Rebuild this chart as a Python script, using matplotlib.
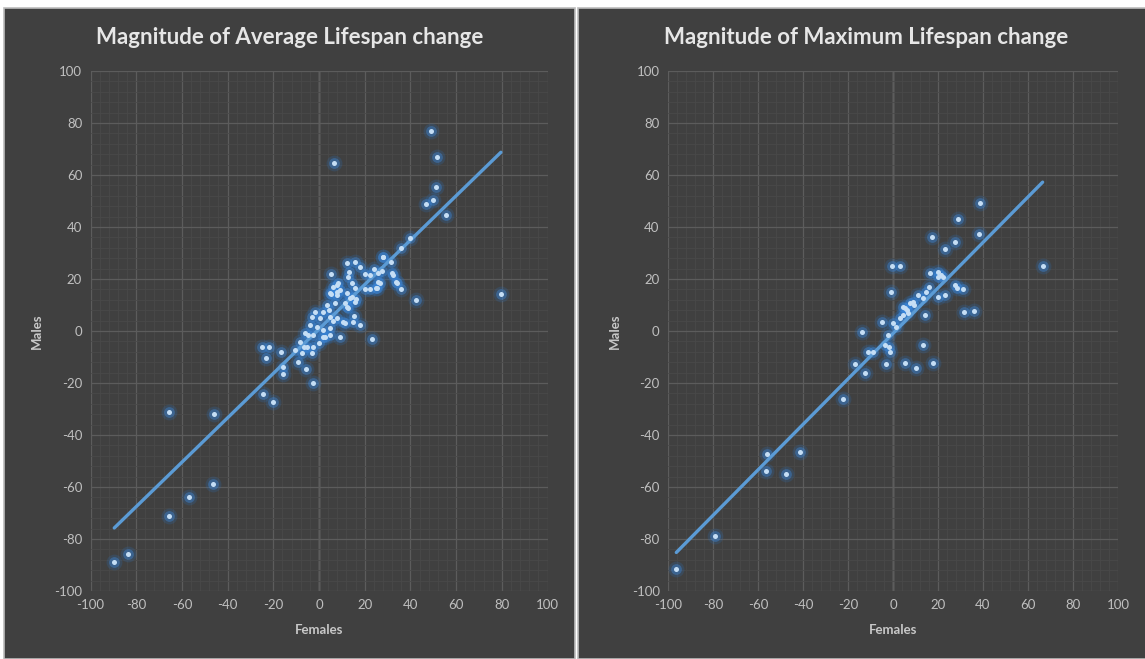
import numpy as np
import matplotlib
matplotlib.use("Agg")
import matplotlib.pyplot as plt
from matplotlib.patches import Rectangle
from matplotlib.ticker import MultipleLocator

plt.rcParams["font.family"] = ["Lato", "DejaVu Sans"]
plt.rcParams["axes.unicode_minus"] = False

# Average lifespan change (females, males)
avg_f = [-89.6, -83.7, -65.8, -46.0, -65.8, -57.0, -46.5, -24.4, -20.0, 6.7,
         48.9, 51.8, 51.2, 50.0, 47.0, 55.7, 39.8, 35.7, 79.6, 42.5,
         27.9, 31.5, 27.4, 31.8, 33.7, 35.9, 26.7, 24.1, 25.9, 22.3,
         26.0, 24.8, 20.1, 22.3, 25.3, 23.0, 15.8, 12.1, 17.9, 28.1,
         5.1, 13.3, 12.8, 8.4, 6.3, 9.2, 4.8, 7.7, 12.1, 14.3,
         15.8, 13.6, 11.4, 12.8, 7.0, 3.4, 1.9, -1.8, -3.2, 0.4,
         4.8, 7.7, 10.6, 15.0, 17.9, -3.9, -1.0, 1.9, 4.8, -6.1,
         -2.5, 2.6, 9.2, -8.3, -5.4, -2.5, -10.5, 7.7, 5.3, 8.0,
         14.3, 16.2, 12.1, 15.9, 15.3, 4.5, 6.3, 11.4, 0.1, 4.8,
         -4.7, 1.9, -25.1, -21.9, -16.8, -23.3, -6.6, -7.6, -3.2, -9.1,
         -5.7, -15.6, -15.6, -2.6, 32.5, 34.0, 20.0]
avg_m = [-89.0, -85.9, -31.3, -32.0, -71.2, -64.0, -59.0, -24.4, -27.2, 64.5,
         77.0, 67.0, 55.3, 50.3, 48.8, 44.5, 35.9, 32.0, 14.1, 11.9,
         28.3, 26.7, 23.2, 22.3, 18.7, 16.0, 18.6, 24.0, 22.2, 21.5,
         18.7, 16.5, 16.0, 16.0, 16.4, -3.2, 26.4, 26.0, 24.8, 28.6,
         21.9, 22.8, 20.9, 18.3, 17.0, 15.8, 14.7, 13.8, 14.5, 18.3,
         16.4, 12.6, 10.6, 8.7, 10.6, 10.0, 7.4, 7.4, 5.5, 4.9,
         5.5, 4.9, 3.6, 3.6, 2.3, 2.3, 1.7, 0.4, 1.0, -0.9,
         -1.5, -2.2, -2.2, -4.1, -6.0, -6.0, -7.3, 17.7, 14.2, 15.1,
         13.2, 12.2, 9.4, 11.3, 5.9, 8.1, 4.0, 2.9, -4.7, -1.5,
         -1.5, -2.2, -6.3, -6.3, -8.2, -10.5, -6.3, -8.6, -8.6, -12.0,
         -14.7, -14.0, -16.7, -20.0, 21.5, 18.3, 22.0]

# Maximum lifespan change (females, males)
max_f = [38.5, 28.9, 38.1, 17.2, 27.4, 23.3, -0.3, 3.0, 16.3, 20.0,
         21.2, 22.2, 20.0, -0.7, 16.0, 14.8, 27.4, 28.4, 31.3, 23.0,
         20.0, 13.3, 11.1, 8.9, 7.4, 5.2, 4.4, 6.7, 4.4, 3.0,
         14.1, 31.6, 36.2, 0.0, 1.5, -4.7, -13.6, -2.2, -3.7, -1.8,
         -1.5, 13.2, -11.1, -8.9, -17.0, -3.2, 5.3, 17.8, 10.4, -12.6,
         -22.2, 66.5, -96.3, -79.2, -56.0, -56.3, -47.7, -41.2, 6.0, 9.5]
max_m = [49.1, 43.0, 37.2, 36.3, 34.2, 31.7, 25.0, 25.0, 22.4, 22.8,
         21.5, 20.9, 20.9, 15.1, 17.0, 15.1, 17.7, 16.5, 16.0, 13.8,
         13.2, 12.6, 13.8, 11.3, 10.7, 8.7, 9.4, 6.8, 6.2, 4.9,
         6.2, 7.4, 7.6, 3.0, 1.7, 3.6, -0.3, -1.5, -5.4, -6.0,
         -8.0, -5.5, -8.2, -8.0, -12.7, -12.6, -12.4, -12.4, -14.4, -16.3,
         -26.3, 25.0, -91.7, -78.7, -47.4, -53.8, -55.1, -46.4, 8.0, 10.0]

titles = ["Magnitude of Average Lifespan change", "Magnitude of Maximum Lifespan change"]
datasets = [(avg_f, avg_m), (max_f, max_m)]

W, H = 1145, 659
fig = plt.figure(figsize=(W / 100, H / 100), dpi=100, facecolor="white")

panel = "#404040"
# chart area backgrounds (Excel-style dark theme)
fig.patches.append(Rectangle((4 / W, 0), 571 / W, 651 / H, transform=fig.transFigure,
                             facecolor=panel, edgecolor="#bcbcbc", lw=1.2, zorder=-5))
fig.patches.append(Rectangle((578 / W, 0), 568 / W, 651 / H, transform=fig.transFigure,
                             facecolor=panel, edgecolor="#bcbcbc", lw=1.2, zorder=-5))

axes_pos = [[90.5 / W, 68 / H, 457 / W, 520 / H],
            [668 / W, 68 / H, 450 / W, 520 / H]]
title_x = [290 / W, 866 / W]

tick_col = "#bfbfbf"
for (fx, my), pos, title, tx in zip(datasets, axes_pos, titles, title_x):
    ax = fig.add_axes(pos)
    ax.set_facecolor(panel)
    fx = np.array(fx)
    my = np.array(my)
    ax.set_xlim(-100, 100)
    ax.set_ylim(-100, 100)
    ax.xaxis.set_major_locator(MultipleLocator(20))
    ax.yaxis.set_major_locator(MultipleLocator(20))
    ax.xaxis.set_minor_locator(MultipleLocator(4))
    ax.yaxis.set_minor_locator(MultipleLocator(4))
    ax.grid(which="major", color="#5c5c5c", lw=0.9, zorder=0)
    ax.grid(which="minor", color="#494949", lw=0.6, zorder=0)
    ax.axvline(0, color="#8a8a8a", lw=1.0, zorder=1)
    for s in ax.spines.values():
        s.set_visible(False)
    ax.tick_params(which="both", length=0, colors=tick_col, labelsize=9.5, pad=6)
    ax.set_xlabel("Females", color="#c8c8c8", fontsize=9.5, fontweight="bold", labelpad=9)
    ax.set_ylabel("Males", color="#c8c8c8", fontsize=9.5, fontweight="bold", labelpad=8)

    # glowing markers
    ax.scatter(fx, my, s=130, color="#2c6fb8", alpha=0.22, lw=0, zorder=2)
    ax.scatter(fx, my, s=60, color="#3c8ae0", alpha=0.40, lw=0, zorder=2)
    # linear trendline
    k, b = np.polyfit(fx, my, 1)
    xl = np.array([fx.min(), fx.max()])
    ax.plot(xl, k * xl + b, color="#5b9bd5", lw=2.4, zorder=3, solid_capstyle="round")
    ax.scatter(fx, my, s=13, color="#c5def5", lw=0, zorder=4)

    fig.text(tx, 1 - 37 / H, title, ha="center", va="center", color="#e6e6e6",
             fontsize=16, fontweight="bold")

fig.savefig("out.png", dpi=100, facecolor="white")
